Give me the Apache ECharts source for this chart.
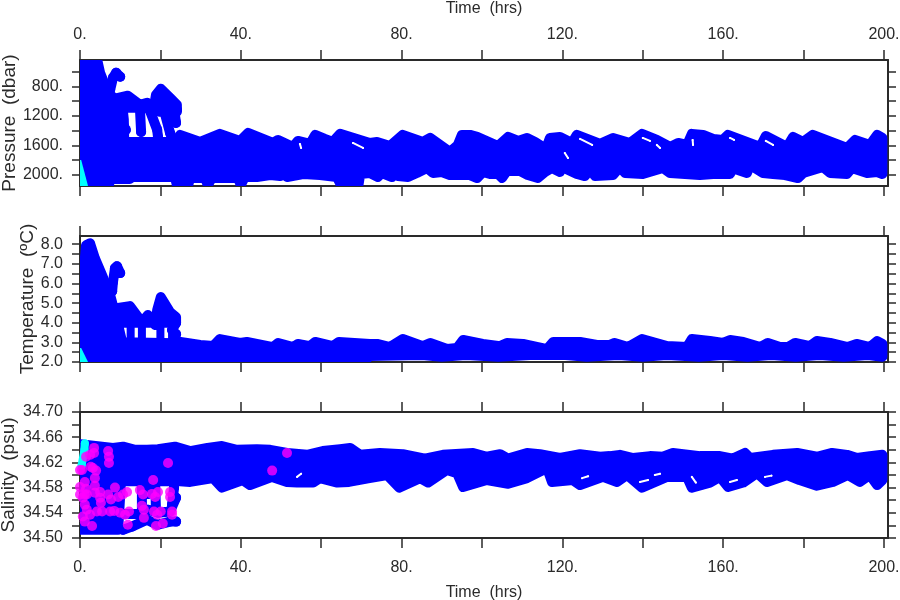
<!DOCTYPE html>
<html>
<head>
<meta charset="utf-8">
<style>html,body{margin:0;padding:0;background:#fff}#c{width:900px;height:600px}</style>
<script src="https://cdn.jsdelivr.net/npm/echarts@6/dist/echarts.min.js"></script>
</head>
<body>
<div id="c"></div>
<script>
// ---- Axis tick values and labels
const hourTicks = [0,20,40,60,80,100,120,140,160,180,200];
const hourLabels = [0,40,80,120,160,200];
const pressureTicks = [600,800,1000,1200,1400,1600,1800,2000];
const pressureLabels = [800,1200,1600,2000];
const temperatureTicks = [2,2.5,3,3.5,4,4.5,5,5.5,6,6.5,7,7.5,8];
const temperatureLabels = [2,3,4,5,6,7,8];
const salinityTicks = [34.50,34.52,34.54,34.56,34.58,34.60,34.62,34.64,34.66,34.68,34.70];
const salinityLabels = [34.50,34.54,34.58,34.62,34.66,34.70];

// ---- Pressure (dbar): upper and lower limits of the dense point cloud, [hours, value]
const pressureUpper = [[0,300],[3.7,300],[5,614],[6.2,777],[7.5,913],[9,980],[10.4,1000],[10.9,1250],[11,1552],[23.9,1552],
[24.9,1457],[29.9,1552],[34.8,1443],[39.8,1539],[41.8,1430],[48,1566],[49.3,1525],[53,1620],[54.2,1539],[57.2,1579],[58.5,1457],
[60.9,1511],[62.9,1552],[64.7,1443],[72.1,1566],[73.9,1552],[77.1,1607],[80.3,1457],[85.3,1552],[87.1,1498],[92,1688],[94,1593],
[95,1457],[97,1457],[98.8,1484],[104,1607],[106.5,1484],[109,1539],[111.2,1498],[113.2,1552],[115.9,1647],[116.9,1498],[119.4,1484],
[122.4,1566],[123.6,1457],[129.4,1579],[132.6,1498],[136.8,1566],[139.8,1443],[143.5,1525],[146.8,1620],[148.8,1566],[151,1593],
[152.2,1443],[155,1457],[157.5,1511],[159.9,1525],[161.2,1457],[169.2,1620],[170.6,1471],[175.9,1620],[177.4,1484],[179.9,1552],
[182.3,1457],[190.8,1634],[192.8,1525],[196.5,1593],[198.3,1457],[199.6,1498]];
const pressureLower = [[0,2200],[7,2200],[7.5,2055],[12.4,2055],[12.9,2028],[23.6,2028],[24.4,2200],[26.6,2200],[27.4,2042],[31.1,2042],
[31.8,2137],[32.8,2042],[39.3,2042],[40,2137],[41,2028],[44,2028],[47.3,2001],[49.8,2015],[50.5,1974],[51.5,2028],[55.5,1987],[59.7,2001],
[63.9,2028],[65.2,2165],[69.2,2165],[69.7,1987],[72.1,1974],[74.1,2028],[75.1,1974],[77.6,2028],[78.4,1974],[79.1,2015],[81.6,2028],
[83.8,1974],[86.3,1906],[87.8,1974],[90,1960],[92,2001],[97,2001],[98.8,2042],[100.2,1960],[102,1987],[104,1987],[105,2042],[106.2,1947],
[109.5,1947],[111.4,2001],[113.9,2042],[115.7,1960],[117.4,1906],[119.4,1960],[119.9,1892],[123.6,1987],[125.6,2015],[126.9,1919],
[128.1,2015],[132.6,2001],[134.3,1892],[135.6,1974],[140,1987],[145,1906],[146.8,1974],[154.2,2001],[157.5,1987],[161.7,1987],[162.9,1865],
[163.7,1933],[165.9,1974],[166.7,1865],[169.9,1974],[172.4,1987],[175.4,2001],[178.6,2042],[179.9,1974],[184.8,1892],[186.6,1974],
[190.8,1987],[192,1906],[195.8,1974],[198.3,1960],[199.6,1987]];
const pressureHook = [[7.5,845],[8.2,682],[9,614],[10,668]];
const pressureRidge = [[9.5,954],[11.9,926],[14.9,1049],[16.7,1022],[18.2,1144],[18.9,913],[20.1,831],[22.4,954],[24.1,1049],[24.1,1144],[22.4,1117],[19.9,1144],[17.4,1090],[14.9,1090],[11.9,1090],[9.5,1090]];
const pressureTail = [[24.1,1117],[23.6,1185],[23.9,1294]];
const pressureDriftA = [[10.4,1090],[10.4,1280],[11.4,1389]];
const pressureDriftB = [[14.9,1090],[15.2,1416]];
const pressureDriftC = [[17.4,1130],[19.2,1389],[19.4,1484]];
const pressureDriftD = [[21,1144],[22.4,1430],[22.9,1498]];
const pressureStart = [[0,1797],[0.3,1797],[2,2150],[0,2150]];
const pressureGapA = [[124.4,1511],[127.4,1593]];
const pressureGapB = [[120.6,1702],[121.4,1770]];
const pressureGapC = [[140,1498],[141.8,1538]];
const pressureGapD = [[143.5,1593],[144.3,1634]];
const pressureGapE = [[67.9,1566],[70.4,1634]];
const pressureGapF = [[54.7,1579],[55,1634]];
const pressureGapG = [[152.4,1525],[152.5,1593]];
const pressureGapH = [[170.6,1538],[172.4,1593]];
const pressureGapI = [[161.7,1498],[162.7,1525]];

// ---- Temperature (deg C)
const temperatureUpper = [[0,6.42],[1,6.78],[1.5,7.95],[2.5,8.05],[3.7,7.29],[5.5,6.42],[7.5,5.41],[8.5,4.64],[9.5,3.88],[10.5,3.0],[24,2.95],
[25,3.02],[29.9,2.87],[33.1,2.81],[34.8,3.17],[39.8,2.97],[41.5,3.02],[48,2.76],[49.3,2.97],[53,2.76],[54.2,2.92],[57.2,2.81],[58.5,3.02],
[62.9,2.81],[64.4,3.02],[72.1,2.92],[73.9,2.92],[77.1,2.76],[80.3,3.17],[85.3,2.81],[87.1,2.97],[91.3,2.66],[93.8,2.71],[95.3,3.12],[100.2,2.92],
[104.5,2.81],[106.2,2.97],[110.2,2.92],[116.2,2.66],[117.7,3.02],[124.4,3.02],[128.6,2.87],[131.8,2.87],[133,2.97],[136.3,2.76],[139.8,3.17],
[146,2.81],[151,2.76],[152.2,3.17],[156.7,3.07],[160,2.97],[161.7,3.12],[165,3.02],[169.2,2.76],[171.1,2.97],[174.1,2.76],[176.1,2.76],
[177.9,2.97],[181.6,2.81],[183.3,3.07],[186.6,2.97],[191,2.76],[193.2,2.92],[196.5,2.76],[198.3,3.07],[199.6,2.92]];
const temperatureLower = [[0,1.8],[70,1.85],[72,2.3],[85,2.36],[90,2.27],[96,2.36],[104,2.27],[112,2.36],[120,2.37],[126,2.27],[134,2.36],
[140,2.27],[146,2.36],[154,2.27],[160,2.36],[166,2.27],[172,2.36],[178,2.27],[184,2.36],[190,2.27],[196,2.36],[199.6,2.27]];
const temperatureHook = [[8,5.61],[8.2,6.07],[8.7,6.78],[9.2,6.88],[10,6.53]];
const temperatureRidge = [[9.5,4.75],[12.4,4.85],[15.4,4.03],[16.9,4.39],[18.7,3.88],[19.2,4.64],[20.1,5.31],[22.4,4.54],[23.9,4.29],[23.9,4],[9.5,4]];
const temperatureTail = [[23.9,4],[22.9,3.63],[23.9,3.42]];
const temperatureDriftA = [[9.9,4],[9.9,3]];
const temperatureDriftB = [[12.6,4],[12.6,3]];
const temperatureDriftC = [[15.4,4],[15.4,3]];
const temperatureDriftD = [[20,4],[20,3]];
const temperatureDriftE = [[22.9,4],[22.9,3]];
const temperatureStart = [[0,2.71],[0.3,2.71],[2,2],[0,2]];

// ---- Salinity (psu)
const salinityUpper = [[0,34.649],[8.2,34.643],[10.7,34.645],[13.7,34.64],[16.7,34.64],[19.4,34.641],[23.6,34.645],[27.4,34.638],[31.7,34.643],
[35.3,34.646],[39,34.64],[44,34.641],[47.3,34.64],[51.5,34.635],[56.5,34.632],[60.4,34.638],[64.7,34.641],[67.2,34.643],[69.7,34.632],
[74.6,34.635],[80.3,34.633],[85.8,34.626],[90.3,34.632],[97.8,34.635],[101.2,34.629],[104.5,34.633],[106.5,34.626],[111.2,34.635],
[114.4,34.633],[119.4,34.627],[124.4,34.633],[129.4,34.629],[131.8,34.63],[134.3,34.632],[137.6,34.627],[141.8,34.63],[145,34.629],[147.5,34.635],
[154.2,34.63],[159.2,34.63],[162.4,34.626],[165.4,34.635],[166.7,34.627],[172.4,34.632],[178.4,34.635],[183.3,34.629],[187.1,34.635],[190.8,34.632],
[193.3,34.627],[196.5,34.63],[199.6,34.632]];
const salinityLower = [[0,34.513],[9.5,34.513],[10.2,34.59],[24.9,34.59],[27.4,34.589],[33.1,34.595],[35.3,34.58],[40.5,34.592],[42.3,34.584],
[47.8,34.597],[51.5,34.589],[54,34.588],[58,34.588],[59.7,34.595],[64,34.588],[66.9,34.589],[72,34.595],[76.4,34.6],[79.4,34.58],[84.6,34.595],
[86.6,34.588],[91.3,34.608],[93.8,34.603],[95.3,34.581],[101.2,34.592],[106.5,34.586],[111.2,34.595],[116.2,34.611],[117.4,34.589],[122.6,34.592],
[124.4,34.584],[130.1,34.597],[133.6,34.589],[136.1,34.6],[139.8,34.58],[146,34.597],[151,34.597],[152.2,34.58],[156.7,34.588],[159.2,34.597],
[161.2,34.581],[165,34.588],[168.4,34.603],[170.9,34.589],[175.9,34.6],[179,34.592],[183.3,34.583],[187.3,34.589],[191,34.6],[194,34.589],
[196.5,34.6],[198.3,34.584],[199.6,34.592]];
const salinityPatchA = [[10.7,34.513],[12.9,34.518],[16.7,34.529],[19.2,34.521],[22.4,34.526],[23.9,34.526]];
const salinityPatchB = [[11.2,34.538],[14.4,34.538],[16.9,34.545],[19.4,34.54],[22.4,34.542],[23.9,34.564]];
const salinityDriftA = [[15.4,34.586],[15.4,34.542]];
const salinityDriftB = [[18.7,34.586],[18.9,34.545]];
const salinityDriftC = [[23.4,34.58],[22.9,34.553]];
const salinityDriftD = [[16.7,34.586],[16.9,34.57]];
const salinityStart = [[1.2,34.65],[1.1,34.64],[0.4,34.615]];
const salinityGapA = [[54,34.597],[55,34.602]];
const salinityGapB = [[139.3,34.589],[141.3,34.592]];
const salinityGapC = [[143,34.6],[144.3,34.602]];
const salinityGapD = [[152.2,34.597],[153.2,34.588]];
const salinityGapE = [[161.7,34.589],[163.4,34.592]];
const salinityGapF = [[170.4,34.597],[172,34.599]];
const salinityGapG = [[124.9,34.595],[126.4,34.598]];
const salinityFlagged = [[3.5,34.643],[3.5,34.635],[2.5,34.632],[1.5,34.629],[7,34.638],[7.2,34.629],[7.2,34.619],[21.9,34.619],[51.5,34.635],[47.8,34.607],
[0.5,34.608],[2.7,34.613],[3.2,34.611],[4,34.607],[3.7,34.595],[3.7,34.583],[1.2,34.589],[18.2,34.592],[1.5,34.578],[1.2,34.569],[0.7,34.564],[1.7,34.569],
[3.7,34.572],[5,34.573],[5,34.564],[5.2,34.556],[8.7,34.58],[7,34.569],[7.7,34.561],[9.5,34.565],[10.7,34.569],[11.7,34.573],[14.9,34.576],[15.7,34.569],
[17.9,34.57],[19.4,34.573],[18.7,34.565],[22.4,34.573],[22.4,34.565],[1.2,34.553],[1.7,34.545],[2.5,34.537],[4.2,34.542],[5.5,34.542],[7.5,34.542],[8.5,34.543],
[10,34.54],[11.2,34.537],[12.2,34.542],[15.4,34.551],[15.9,34.545],[15.9,34.532],[18.4,34.542],[19.2,34.537],[20.1,34.542],[22.9,34.542],[22.9,34.537],
[0.7,34.534],[1.2,34.526],[3,34.519],[11.9,34.521],[18.9,34.519],[20.6,34.523],[0,34.608],[0,34.581],[0,34.569]];

const BLUE = '#0000ff', CYAN = '#00ffff', PINK = '#ff00ff', INK = '#2a2a2a', WHITE = '#ffffff';
const FONT = '"Liberation Sans", Arial, sans-serif';
const panels = [{top:60},{top:236},{top:412}];

function polygon(gridIndex, pts, color, strokeWidth, z) {
  return {
    type:'custom', coordinateSystem:'cartesian2d', xAxisIndex:gridIndex*2, yAxisIndex:gridIndex*2, z:z||2,
    clip:true, silent:true, animation:false, encode:{x:0,y:1}, data:pts,
    renderItem(params, api){
      if (params.dataIndex !== 0) return null;
      return {type:'polygon', shape:{points:pts.map(p=>api.coord(p))},
        style:{fill:color, stroke:color, lineWidth:strokeWidth, lineJoin:'round'}};
    }
  };
}
function strand(gridIndex, pts, color, width, z) {
  return {type:'line', xAxisIndex:gridIndex*2, yAxisIndex:gridIndex*2, data:pts, clip:true, silent:true, animation:false, z:z||3,
    symbol:'circle', symbolSize:width, showSymbol:true, showAllSymbol:true, itemStyle:{color},
    lineStyle:{color, width, cap:'round', join:'round'}};
}
const band = (up, lo) => up.concat(lo.slice().reverse());
const series = [
  polygon(0, band(pressureUpper, pressureLower), BLUE, 10),
  polygon(0, pressureRidge, BLUE, 10),
  ...[pressureHook,pressureTail,pressureDriftA,pressureDriftB,pressureDriftC,pressureDriftD].map(s=>strand(0,s,BLUE,10)),
  ...[pressureGapA,pressureGapB,pressureGapC,pressureGapD,pressureGapE,pressureGapF,pressureGapG,pressureGapH,pressureGapI].map(s=>strand(0,s,WHITE,2,4)),
  polygon(0, pressureStart, CYAN, 0, 4),
  polygon(1, band(temperatureUpper, temperatureLower), BLUE, 10),
  polygon(1, temperatureRidge, BLUE, 10),
  ...[temperatureHook,temperatureTail].map(s=>strand(1,s,BLUE,10)),
  ...[temperatureDriftA,temperatureDriftB,temperatureDriftC,temperatureDriftD,temperatureDriftE].map(s=>strand(1,s,BLUE,8)),
  polygon(1, temperatureStart, CYAN, 0, 4),
  polygon(2, band(salinityUpper, salinityLower), BLUE, 10),
  ...[salinityPatchA,salinityPatchB,salinityDriftA,salinityDriftB,salinityDriftC,salinityDriftD].map(s=>strand(2,s,BLUE,10)),
  ...[salinityGapA,salinityGapB,salinityGapC,salinityGapD,salinityGapE,salinityGapF,salinityGapG].map(s=>strand(2,s,WHITE,2,4)),
  strand(2, salinityStart, CYAN, 8, 4),
  {type:'scatter', xAxisIndex:4, yAxisIndex:4, data:salinityFlagged, symbol:'circle', symbolSize:10, clip:true, silent:true, animation:false, z:5, itemStyle:{color:PINK}}
];

function xAxis(gridIndex, position, showLabels, name, gap) {
  return {type:'value', gridIndex, position, min:0, max:201, scale:true, splitLine:{show:false},
    name:name||'', nameLocation:'middle', nameGap:gap||52, nameMoveOverlap:false, nameTextStyle:{color:INK, fontFamily:FONT, fontSize:16},
    axisLine:{show:true, onZero:false, lineStyle:{color:INK, width:2}},
    axisTick:{show:true, length:10, customValues:hourTicks, lineStyle:{color:INK, width:1.5}},
    axisLabel:{show:showLabels, customValues:hourLabels, margin:position==='top'?17:22, hideOverlap:false, showMinLabel:true, showMaxLabel:true,
      color:INK, fontFamily:FONT, fontSize:16, formatter:v=>v+'.'}};
}
function yAxis(gridIndex, position, cfg, showLabels) {
  return {type:'value', gridIndex, position, min:cfg.min, max:cfg.max, inverse:!!cfg.inverse, splitLine:{show:false},
    name:showLabels?cfg.name:'', nameLocation:'middle', nameGap:cfg.gap, nameRotate:90, nameMoveOverlap:false, nameTextStyle:{color:INK, fontFamily:FONT, fontSize:19},
    axisLine:{show:true, onZero:false, lineStyle:{color:INK, width:2}},
    axisTick:{show:true, length:8, customValues:cfg.ticks, lineStyle:{color:INK, width:1.5}},
    axisLabel:{show:showLabels, customValues:cfg.labels, margin:17, hideOverlap:false, showMinLabel:true, showMaxLabel:true,
      color:INK, fontFamily:FONT, fontSize:16, formatter:cfg.fmt}};
}
const yCfg = [
  {min:441,max:2150,inverse:true,name:'Pressure  (dbar)',gap:61,ticks:pressureTicks,labels:pressureLabels,fmt:v=>v+'.'},
  {min:2,max:8.42,name:'Temperature  (ºC)',gap:43,ticks:temperatureTicks,labels:temperatureLabels,fmt:v=>v.toFixed(1)},
  {min:34.5,max:34.7,name:'Salinity  (psu)',gap:62,ticks:salinityTicks,labels:salinityLabels,fmt:v=>v.toFixed(2)}
];

const chart = echarts.init(document.getElementById('c'), null, {renderer:'canvas'});
chart.setOption({
  animation:false, backgroundColor:'#ffffff',
  grid: panels.map(p=>({left:80, width:808, top:p.top, height:126, containLabel:false, outerBoundsMode:'none'})),
  xAxis: [
    xAxis(0,'bottom',false), xAxis(0,'top',true,'Time  (hrs)',43),
    xAxis(1,'bottom',false), xAxis(1,'top',false),
    xAxis(2,'bottom',true,'Time  (hrs)',47), xAxis(2,'top',false)
  ],
  yAxis: [
    yAxis(0,'left',yCfg[0],true), yAxis(0,'right',yCfg[0],false),
    yAxis(1,'left',yCfg[1],true), yAxis(1,'right',yCfg[1],false),
    yAxis(2,'left',yCfg[2],true), yAxis(2,'right',yCfg[2],false)
  ],
  series
});
</script>
</body>
</html>
